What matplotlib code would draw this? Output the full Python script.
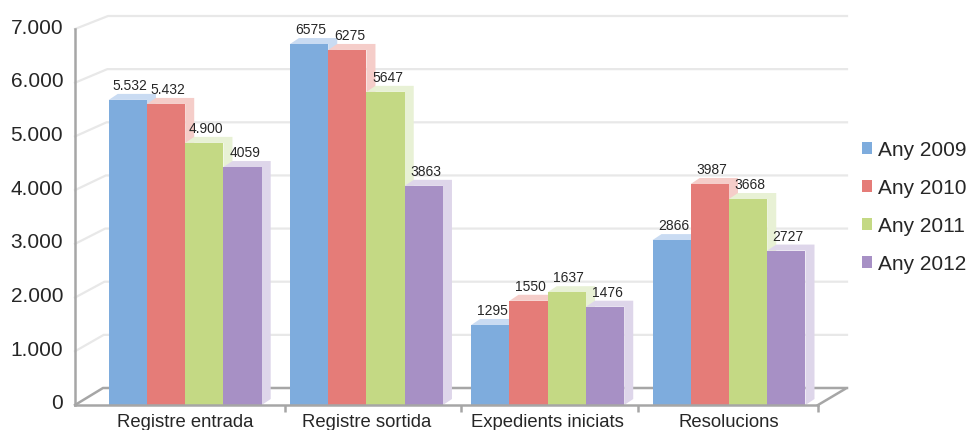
import matplotlib
matplotlib.use('Agg')
import matplotlib.pyplot as plt
import numpy as np
from matplotlib.patches import Polygon, Patch
from matplotlib.transforms import ScaledTranslation

plt.rcParams['font.family'] = ['Liberation Sans', 'DejaVu Sans']

categories = ['Registre entrada', 'Registre sortida', 'Expedients iniciats', 'Resolucions']
years = ['Any 2009', 'Any 2010', 'Any 2011', 'Any 2012']

# data labels as printed on the chart
labels_2009 = ['5.532', '6575', '1295', '2866']
labels_2010 = ['5.432', '6275', '1550', '3987']
labels_2011 = ['4.900', '5647', '1637', '3668']
labels_2012 = ['4059', '3863', '1476', '2727']

# bar heights as drawn (read against the front axis, the 3D bars don't follow the labels exactly)
heights_2009 = [5680, 6720, 1490, 3070]
heights_2010 = [5605, 6610, 1940, 4115]
heights_2011 = [4880, 5830, 2100, 3835]
heights_2012 = [4430, 4080, 1830, 2875]

colors = ['#7eacdd', '#e57c78', '#c4d984', '#a790c5']
pale = ['#c9dbf2', '#f5cdc9', '#e8f1d5', '#ded6ea']
axis_grey = '#a6a6a6'
grid_grey = '#e8e8e8'
text_col = '#262626'

heights = [heights_2009, heights_2010, heights_2011, heights_2012]
labels = [labels_2009, labels_2010, labels_2011, labels_2012]

W, H = 971, 431
fig = plt.figure(figsize=(W / 100, H / 100), dpi=100)
# front plane of the 3D box
left_px, right_px, bottom_px, top_px = 75, 818, 406, 30
ax = fig.add_axes([left_px / W, (H - bottom_px) / H,
                   (right_px - left_px) / W, (bottom_px - top_px) / H])
xl, xr = -0.608, 3.491
ax.set_xlim(xl, xr)
ax.set_ylim(0, 7000)

sx = (right_px - left_px) / (xr - xl)   # px per x unit
sy = (bottom_px - top_px) / 7000.0      # px per y unit

# back wall gridlines + side wall diagonals
for v in range(0, 8000, 1000):
    dxp = 28 + 5 * v / 7000
    dyp = 17 - 4 * v / 7000
    xb = xl + dxp / sx
    yb = v + dyp / sy
    xend = xr + 29 / sx
    if v == 0:
        ax.plot([xl, xb, xend], [0, yb, yb], color=axis_grey, lw=1.8,
                clip_on=False, zorder=1, solid_joinstyle='miter')
        ax.plot([xr, xr + 27 / sx], [0, 16 / sy], color=axis_grey, lw=1.8,
                clip_on=False, zorder=1)
    else:
        ax.plot([xl, xb, xend], [v, yb, yb], color=grid_grey, lw=1.6,
                clip_on=False, zorder=1)

# bars with a pale depth face (top + right side)
w = 0.211
ddx = 9 / sx
ddy = 6 / sy
x = np.arange(len(categories))
for k in range(4):
    xs = x + (k - 1.5) * w
    for xc, h, lab in zip(xs, heights[k], labels[k]):
        x0, x1 = xc - w / 2, xc + w / 2
        top = Polygon([(x0, h), (x0 + ddx, h + ddy), (x1 + ddx, h + ddy), (x1 + ddx, ddy),
                       (x1, 0), (x1, h)], closed=True, facecolor=pale[k],
                      edgecolor='none', zorder=2, clip_on=False)
        ax.add_patch(top)
        ax.annotate(lab, xy=(xc, h), xytext=(2, 8), textcoords='offset pixels',
                    ha='center', va='bottom', fontsize=10, color=text_col, zorder=5)
    ax.bar(xs, heights[k], width=w, color=colors[k], linewidth=0, zorder=3)

for s in ['top', 'right']:
    ax.spines[s].set_visible(False)
for s in ['left', 'bottom']:
    ax.spines[s].set_color(axis_grey)
    ax.spines[s].set_linewidth(1.8)
    ax.spines[s].set_zorder(4)

yt = list(range(0, 8000, 1000))
ax.set_yticks(yt)
ax.set_yticklabels([f'{v:,}'.replace(',', '.') for v in yt], fontsize=15, color=text_col)
ax.tick_params(axis='y', length=0, pad=8.5)
for t in ax.get_yticklabels():
    t.set_transform(t.get_transform() + ScaledTranslation(0, 4 / 100, fig.dpi_scale_trans))

ax.set_xticks(x)
ax.set_xticklabels(categories, fontsize=13.3, color=text_col)
ax.tick_params(axis='x', length=0, pad=6)
ax.set_xticks([0.55, 1.52, 2.5, xr], minor=True)
ax.tick_params(axis='x', which='minor', length=5, width=1.8, color=axis_grey, direction='out')

handles = [Patch(facecolor=c, edgecolor='none') for c in colors]
fig.legend(handles, years, loc='upper left', bbox_to_anchor=(862 / W, (H - 141) / H),
           frameon=False, fontsize=15, handlelength=0.5, handleheight=0.5,
           handletextpad=0.25, labelspacing=0.92, borderpad=0, borderaxespad=0,
           labelcolor=text_col)

fig.savefig('out.png', dpi=100)
